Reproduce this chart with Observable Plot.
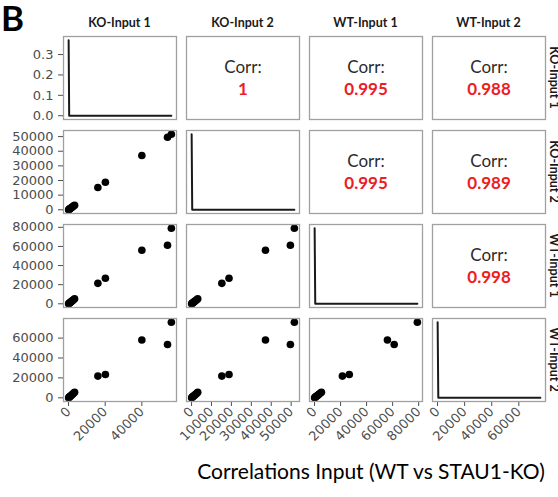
<!DOCTYPE html>
<html><head><meta charset="utf-8">
<script src="https://cdn.jsdelivr.net/npm/d3@7"></script>
<script src="https://cdn.jsdelivr.net/npm/@observablehq/plot@0.6"></script>
<style>
body{margin:0;background:#fff;}
#fig{position:relative;width:558px;height:497px;overflow:hidden;background:#fff;}
#fig svg.plotpanel{position:absolute;overflow:visible;background:transparent;}
#overlay{position:absolute;left:0;top:0;}
</style></head><body><div id="fig"></div>
<script>
// ---- data ----
const varNames = ["KO-Input 1", "KO-Input 2", "WT-Input 1", "WT-Input 2"];
const ko1 = [50, 300, 600, 900, 1300, 1700, 2200, 2700, 3300, 16000, 20100, 40000, 54000, 56100];
const ko2 = [40, 280, 550, 850, 1250, 1600, 2100, 2600, 3100, 15200, 18800, 37100, 49600, 51600];
const wt1 = [80, 500, 900, 1400, 2000, 2700, 3400, 4300, 5300, 21400, 26700, 56000, 61200, 79000];
const wt2 = [70, 480, 950, 1500, 2100, 2800, 3600, 4500, 5600, 21800, 23400, 58100, 53500, 75900];
// diagonal density curves (x position, density)
const densKO1X = [50, 350, 56100], densKO1Y = [0.37, 0, 0];
const densKO2X = [40, 330, 51600], densKO2Y = [0.37, 0, 0];
const densWT1X = [80, 550, 79000], densWT1Y = [0.37, 0, 0];
const densWT2X = [70, 560, 75900], densWT2Y = [0.37, 0, 0];
// tick labels
const ticksKO1 = [0, 20000, 40000];
const ticksKO2 = [0, 10000, 20000, 30000, 40000, 50000];
const ticksWT1 = [0, 20000, 40000, 60000, 80000];
const ticksWT2 = [0, 20000, 40000, 60000];
const ticksDensity = [0, 0.1, 0.2, 0.3];
// correlation labels, upper triangle (row, col)
const corrPairs = [[0,1],[0,2],[0,3],[1,2],[1,3],[2,3]];
const corrLabels = ["1", "0.995", "0.988", "0.995", "0.989", "0.998"];
const figTitle = "Correlations Input (WT vs STAU1-KO)";
const panelLetter = "B";

// ---- layout ----
const series = [ko1, ko2, wt1, wt2];
const densX = [densKO1X, densKO2X, densWT1X, densWT2X];
const densY = [densKO1Y, densKO2Y, densWT1Y, densWT2Y];
const ticks = [ticksKO1, ticksKO2, ticksWT1, ticksWT2];
const lefts = [63, 186, 309, 432], tops = [36, 130, 224, 318];
const PW = 113, PH = 83;
const fig = document.getElementById("fig");

function ext(a) { const [lo, hi] = d3.extent(a); const p = (hi - lo) * 0.05; return [lo - p, hi + p]; }

const tickFont = {fontFamily: "DejaVu Sans, sans-serif", fontSize: "13px", color: "#4d4d4d", background: "transparent", overflow: "visible"};

for (let i = 0; i < 4; i++) {
  for (let j = 0; j < 4; j++) {
    const marks = [];
    let xdom = ext(series[j]);
    let ydom = ext(series[i]);
    if (i === j) {
      const pk = d3.max(densY[i]);
      ydom = [-0.05 * pk, 1.05 * pk];
      const pts = densX[i].map((x, k) => ({x, y: densY[i][k]}));
      marks.push(Plot.line(pts, {x: "x", y: "y", stroke: "#1a1a1a", strokeWidth: 2}));
    } else if (i > j) {
      const pts = series[j].map((x, k) => ({x, y: series[i][k]}));
      marks.push(Plot.dot(pts, {x: "x", y: "y", r: 3.8, fill: "#000", stroke: "none"}));
    } else {
      const idx = corrPairs.findIndex(p => p[0] === i && p[1] === j);
      marks.push(Plot.text(["Corr:"], {frameAnchor: "middle", dy: -10, fontSize: 17, fill: "#2b2b2b", fontFamily: "Lato, sans-serif"}));
      marks.push(Plot.text([corrLabels[idx]], {frameAnchor: "middle", dy: 12, fontSize: 17, fontWeight: "bold", fill: "#ee1c24", fontFamily: "Lato, sans-serif"}));
    }
    marks.push(Plot.frame({stroke: "#a0a0a0", strokeWidth: 1.3}));
    const xOpt = {domain: xdom, label: null};
    if (i === 3) Object.assign(xOpt, {ticks: ticks[j], tickFormat: "d", tickSize: 5, tickPadding: 3, tickRotate: -45});
    else xOpt.axis = null;
    const yOpt = {domain: ydom, label: null};
    if (j === 0) {
      if (i === 0) Object.assign(yOpt, {ticks: ticksDensity, tickFormat: ".1f", tickSize: 5, tickPadding: 5});
      else Object.assign(yOpt, {ticks: ticks[i], tickFormat: "d", tickSize: 5, tickPadding: 5});
    } else yOpt.axis = null;
    const svg = Plot.plot({
      width: PW, height: PH,
      marginLeft: 0, marginRight: 0, marginTop: 0, marginBottom: 0,
      x: xOpt, y: yOpt, style: tickFont, marks
    });
    svg.classList.add("plotpanel");
    svg.style.left = lefts[j] + "px";
    svg.style.top = tops[i] + "px";
    fig.appendChild(svg);
  }
}

// ---- overlay text: panel letter, column strips, row strips, title ----
const NS = "http://www.w3.org/2000/svg";
const ov = document.createElementNS(NS, "svg");
ov.setAttribute("id", "overlay");
ov.setAttribute("width", 558); ov.setAttribute("height", 497);
function addText(str, attrs) {
  const t = document.createElementNS(NS, "text");
  for (const k in attrs) t.setAttribute(k, attrs[k]);
  t.textContent = str; ov.appendChild(t); return t;
}
addText(panelLetter, {x: 1, y: 31, "font-family": "Lato, sans-serif", "font-weight": "bold", "font-size": 35, fill: "#000"});
for (let j = 0; j < 4; j++) {
  addText(varNames[j], {x: lefts[j] + PW / 2, y: 27, "text-anchor": "middle", "font-family": "Lato, sans-serif", "font-weight": "bold", "font-size": 12.5, fill: "#1a1a1a"});
}
for (let i = 0; i < 4; i++) {
  const cx = 550, cy = tops[i] + PH / 2;
  addText(varNames[i], {x: cx, y: cy, "text-anchor": "middle", transform: `rotate(90 ${cx} ${cy})`, "font-family": "Lato, sans-serif", "font-weight": "bold", "font-size": 12.5, fill: "#1a1a1a"});
}
addText(figTitle, {x: 371, y: 479, "text-anchor": "middle", "font-family": "Lato, sans-serif", "font-size": 21, fill: "#000"});
fig.appendChild(ov);
</script>
</body></html>
